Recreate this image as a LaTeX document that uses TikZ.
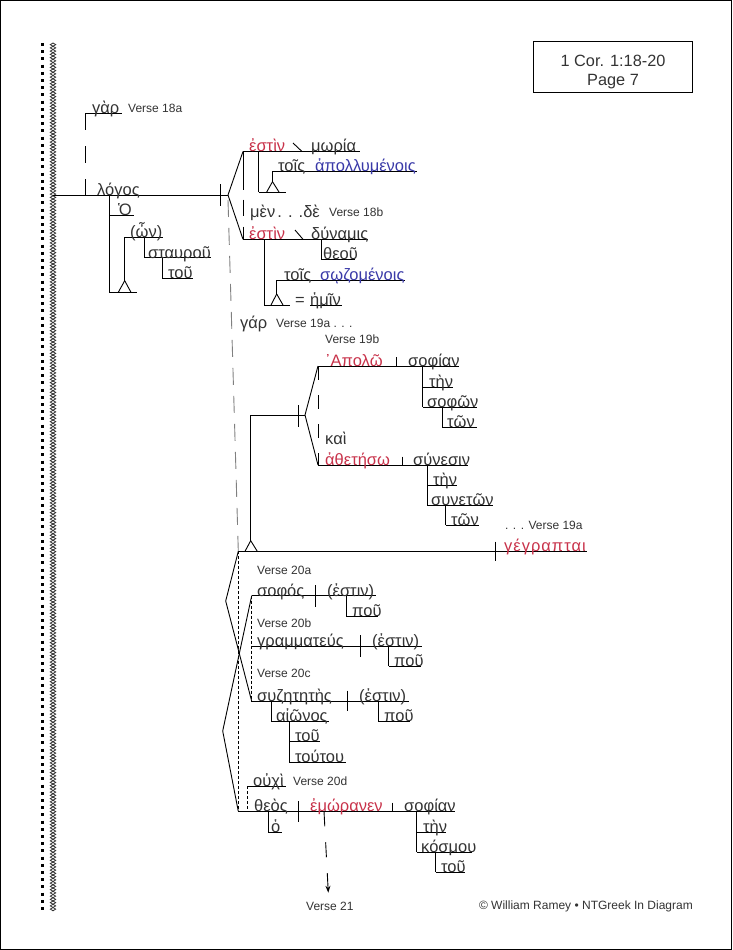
\documentclass[tikz,border=0pt]{standalone}
\usepackage{fontspec}
\setmainfont{Liberation Sans}
\newfontfamily\greekfont{Liberation Sans}
\usetikzlibrary{decorations.pathmorphing}
\usetikzlibrary{arrows.meta}
\definecolor{inkred}{HTML}{C8324A}
\definecolor{inkblue}{HTML}{3A3AA8}
\definecolor{inkgrey}{HTML}{333333}

\begin{document}
\begin{tikzpicture}[
    x = 1pt, y = -1pt,
    word/.style = {anchor = base west, inner sep = 0pt, yshift = -1pt, text = inkgrey, font = \greekfont\fontsize{16.5}{16.5}\selectfont},
    verb/.style = {word, text = inkred},
    part/.style = {word, text = inkblue},
    verse/.style = {anchor = west, inner sep = 0pt, text = inkgrey, font = \fontsize{12}{12}\selectfont},
    diag/.style = {line width = 0.9pt, black},
    bigdash/.style = {diag, dash pattern = on 16.5pt off 16.5pt},
    greydash/.style = {line width = 0.9pt, black!50, dash pattern = on 17pt off 11pt},
    smalldash/.style = {line width = 0.9pt, black, dash pattern = on 3pt off 2pt},
    rope/.style = {line width = 0.8pt, inkgrey, decorate, decoration = {zigzag, segment length = 6.5pt, amplitude = 2.7pt}},
    ]
    \path[use as bounding box] (0,0) rectangle (732,950);
    \draw[black, line width = 1pt] (0.5,0.5) rectangle (731.5,949.5);

    \node[draw, line width = 1pt, minimum width = 159pt, minimum height = 50pt, inner sep = 0pt, align = center, text = inkgrey, font = \fontsize{16.3}{19}\selectfont] (title) at (613,67) {\rule{0pt}{21pt}1 Cor. 1:18-20\\Page 7};

    \coordinate (dota) at (42.5,43);
    \coordinate (dotb) at (42.5,912);
    \coordinate (ropea) at (53,43);
    \coordinate (ropeb) at (53,911);
    \draw[line width = 3pt, black, dash pattern = on 3pt off 4.2pt] (dota) -- (dotb);
    \draw[rope] (ropea) -- (ropeb);
    \draw[rope, decoration = {mirror}] (ropea) -- (ropeb);

    % subject
    \coordinate (m0) at (53,195);
    \coordinate (m1) at (228,195);
    \coordinate (t1a) at (220,184);
    \coordinate (t1b) at (220,206);
    \coordinate (gara) at (85.3,113.3);
    \coordinate (garb) at (121.7,113.3);
    \coordinate (garc) at (85.3,195);
    \coordinate (oa) at (109.3,195);
    \coordinate (ob) at (109.3,215);
    \coordinate (oc) at (134,215);
    \coordinate (od) at (109.3,292.3);
    \coordinate (oe) at (136.7,292.3);
    \coordinate (pl) at (118.3,292.3);
    \coordinate (pa) at (124.7,280.7);
    \coordinate (pr) at (131,292.3);
    \coordinate (pb) at (124.7,237.3);
    \coordinate (pc) at (163.3,237.3);
    \coordinate (sa) at (144.3,237.3);
    \coordinate (sb) at (144.3,257.7);
    \coordinate (sc) at (211,257.7);
    \coordinate (sd) at (162.3,257.7);
    \coordinate (se) at (162.3,278.3);
    \coordinate (sf) at (192.7,278.3);
    \path[diag] (m0) edge (m1) (t1a) edge (t1b) (gara) edge (garb) (oa) edge (od) (ob) edge (oc) (od) edge (oe);
    \path[diag] (pl) edge (pa) (pa) edge (pr) (pa) edge (pb) (pb) edge (pc) (sa) edge (sb) (sb) edge (sc) (sd) edge (se) (se) edge (sf);
    \draw[bigdash] (gara) -- (garc);

    \node[word] (gar1) at (92,112) {γὰρ};
    \node[verse] (v18a) at (128,108) {Verse 18a};
    \node[word] (logos) at (97,194) {λόγος};
    \node[word] (ho1) at (118,214) {Ὁ};
    \node[word] (on1) at (130,236) {(ὦν)};
    \node[word] (stau) at (148,257) {σταυροῦ};
    \node[word] (tou1) at (168,277) {τοῦ};

    % 18
    \coordinate (ua) at (243,151.5);
    \coordinate (ub) at (360,151.5);
    \coordinate (ue) at (243,239.3);
    \coordinate (uf) at (368,239.3);
    \coordinate (sl1a) at (293,143);
    \coordinate (sl1b) at (302,151.5);
    \coordinate (sl2a) at (295,230);
    \coordinate (sl2b) at (303,239.3);
    \coordinate (va) at (258.7,151.5);
    \coordinate (vb) at (258.7,192);
    \coordinate (vc) at (286,192);
    \coordinate (vl) at (266.7,192);
    \coordinate (vt) at (272.5,181.7);
    \coordinate (vr) at (279,192);
    \coordinate (vu) at (272.5,171.3);
    \coordinate (vw) at (417,171.3);
    \coordinate (xa) at (321,239.3);
    \coordinate (xb) at (321,259);
    \coordinate (xc) at (355,259);
    \coordinate (ya) at (264.3,239.3);
    \coordinate (yb) at (264.3,305);
    \coordinate (yc) at (290,305);
    \coordinate (yl) at (271,305);
    \coordinate (yt) at (276.7,294);
    \coordinate (yr) at (283,305);
    \coordinate (yu) at (276.7,280.3);
    \coordinate (yw) at (405,280.3);
    \coordinate (ha) at (310,305);
    \coordinate (hb) at (342,305);
    \path[diag] (m1) edge (ua) (m1) edge (ue) (ua) edge (ub) (ue) edge (uf) (sl1a) edge (sl1b) (sl2a) edge (sl2b);
    \path[diag] (va) edge (vb) (vb) edge (vc) (vl) edge (vt) (vt) edge (vr) (vt) edge (vu) (vu) edge (vw);
    \path[diag] (xa) edge (xb) (xb) edge (xc) (ya) edge (yb) (yb) edge (yc) (yl) edge (yt) (yt) edge (yr) (yt) edge (yu) (yu) edge (yw) (ha) edge (hb);
    \draw[diag, dash pattern = on 38pt off 10pt on 16pt off 11pt on 13pt off 0pt] (ua) -- (ue);

    \node[verb] (est1) at (249,150) {ἐστὶν};
    \node[word] (moria) at (311,150) {μωρία};
    \node[word] (tois1) at (278,170) {τοῖς};
    \node[part] (apol) at (315,170) {ἀπολλυμένοις};
    \node[word] (men) at (250,216) {μὲν\hspace{2pt}. . .δὲ};
    \node[verse] (v18b) at (329,212) {Verse 18b};
    \node[verb] (est2) at (249,238) {ἐστὶν};
    \node[word] (dyn) at (311,238) {δύναμις};
    \node[word] (theou) at (323,258) {θεοῦ};
    \node[word] (tois2) at (284,279) {τοῖς};
    \node[part] (soz) at (320,279) {σῳζομένοις};
    \node[word] (eq) at (295,304) {=};
    \node[word] (hemin) at (310,304) {ἡμῖν};
    \node[word] (gar2) at (240,327) {γάρ};
    \node[verse] (v19a) at (276,323) {Verse 19a . . .};
    \node[verse] (v19b) at (325,339) {Verse 19b};

    % 19
    \coordinate (g0) at (228,200);
    \coordinate (g1) at (238.3,551.3);
    \coordinate (ca) at (250.7,540.7);
    \coordinate (cb) at (250.7,415);
    \coordinate (cc) at (305,415);
    \coordinate (cl) at (245,551.3);
    \coordinate (cr) at (257.3,551.3);
    \coordinate (t2a) at (298.3,405);
    \coordinate (t2b) at (298.3,426.7);
    \coordinate (da) at (318,366);
    \coordinate (db) at (459,366);
    \coordinate (dc) at (318,465);
    \coordinate (dd) at (467.7,465);
    \coordinate (t3a) at (396,357);
    \coordinate (t3b) at (396,366);
    \coordinate (t4a) at (402.3,456.7);
    \coordinate (t4b) at (402.3,465);
    \coordinate (ea) at (422.7,366);
    \coordinate (eb) at (422.7,387.3);
    \coordinate (ec) at (452.7,387.3);
    \coordinate (ed) at (422.7,407.3);
    \coordinate (ee) at (476.7,407.3);
    \coordinate (ef) at (442.3,407.3);
    \coordinate (eg) at (442.3,427.3);
    \coordinate (eh) at (476.7,427.3);
    \coordinate (fa) at (427.3,465);
    \coordinate (fb) at (427.3,485.3);
    \coordinate (fc) at (456.7,485.3);
    \coordinate (fd) at (427.3,505);
    \coordinate (fe) at (492.7,505);
    \coordinate (ff) at (445.7,505);
    \coordinate (fg) at (445.7,525);
    \coordinate (fh) at (479.3,525);
    \coordinate (me) at (586.7,551.3);
    \coordinate (t5a) at (495.7,541.7);
    \coordinate (t5b) at (495.7,560.7);
    \path[diag] (ca) edge (cb) (cb) edge (cc) (cl) edge (ca) (ca) edge (cr) (t2a) edge (t2b) (cc) edge (da) (cc) edge (dc) (da) edge (db) (dc) edge (dd) (t3a) edge (t3b) (t4a) edge (t4b);
    \path[diag] (ea) edge (ed) (eb) edge (ec) (ed) edge (ee) (ef) edge (eg) (eg) edge (eh);
    \path[diag] (fa) edge (fd) (fb) edge (fc) (fd) edge (fe) (ff) edge (fg) (fg) edge (fh);
    \path[diag] (g1) edge (me) (t5a) edge (t5b);
    \draw[greydash] (g0) -- (g1);
    \draw[diag, dash pattern = on 14pt off 15pt] (da) -- (dc);

    \node[verb] (apolo) at (325,365) {᾿Απολῶ};
    \node[word] (sophian1) at (408,365) {σοφίαν};
    \node[word] (ten1) at (429,386) {τὴν};
    \node[word] (sophon) at (427,406) {σοφῶν};
    \node[word] (ton1) at (447,426) {τῶν};
    \node[word] (kai) at (325,443) {καὶ};
    \node[verb] (athet) at (325,464) {ἀθετήσω};
    \node[word] (synesin) at (413,464) {σύνεσιν};
    \node[word] (ten2) at (433,484) {τὴν};
    \node[word] (syneton) at (431,504) {συνετῶν};
    \node[word] (ton2) at (451,524) {τῶν};
    \node[verse] (v19c) at (505,525) {. . . Verse 19a};
    \node[verb] (gegr) at (504,550) {\addfontfeature{LetterSpace=6}γέγραπται};

    % 20
    \coordinate (ka) at (225.7,601);
    \coordinate (kb) at (251.7,701.3);
    \coordinate (kc) at (251.7,595.7);
    \coordinate (kd) at (222.7,731);
    \coordinate (ke) at (238.3,811.3);
    \coordinate (la) at (375.7,595.7);
    \coordinate (t6a) at (315.7,585);
    \coordinate (t6b) at (315.7,606.7);
    \coordinate (lb) at (346.3,595.7);
    \coordinate (lc) at (346.3,616.3);
    \coordinate (ld) at (377.7,616.3);
    \coordinate (na) at (251.7,646.3);
    \coordinate (nb) at (421.7,646.3);
    \coordinate (t7a) at (360.7,635);
    \coordinate (t7b) at (360.7,657);
    \coordinate (nc) at (388.7,646.3);
    \coordinate (nd) at (388.7,666.3);
    \coordinate (ne) at (420.7,666.3);
    \coordinate (pp) at (409.3,701.3);
    \coordinate (t8a) at (347.3,690.7);
    \coordinate (t8b) at (347.3,710.7);
    \coordinate (qa) at (378.3,701.3);
    \coordinate (qb) at (378.3,721.3);
    \coordinate (qc) at (410,721.3);
    \coordinate (ra) at (271.3,701.3);
    \coordinate (rb) at (271.3,721.3);
    \coordinate (rc) at (329.3,721.3);
    \coordinate (rd) at (289.3,721.3);
    \coordinate (re) at (289.3,762);
    \coordinate (rf) at (346,762);
    \coordinate (rg) at (289.3,741.3);
    \coordinate (rh) at (320,741.3);
    \path[diag] (g1) edge (ka) (ka) edge (kb) (kc) edge (kd) (kd) edge (ke) (kc) edge (la) (t6a) edge (t6b) (lb) edge (lc) (lc) edge (ld);
    \path[diag] (na) edge (nb) (t7a) edge (t7b) (nc) edge (nd) (nd) edge (ne) (kb) edge (pp) (t8a) edge (t8b) (qa) edge (qb) (qb) edge (qc);
    \path[diag] (ra) edge (rb) (rb) edge (rc) (rd) edge (re) (re) edge (rf) (rg) edge (rh);
    \draw[smalldash] (kc) -- (kb);
    \draw[smalldash] (g1) -- (ke);

    \node[verse] (v20a) at (257,570) {Verse 20a};
    \node[word] (sophos) at (257,595) {σοφός};
    \node[word] (est3) at (327,595) {(ἐστιν)};
    \node[word] (pou1) at (352,615) {ποῦ};
    \node[verse] (v20b) at (257,623) {Verse 20b};
    \node[word] (gramm) at (257,645) {γραμματεύς};
    \node[word] (est4) at (372,645) {(ἐστιν)};
    \node[word] (pou2) at (394,665) {ποῦ};
    \node[verse] (v20c) at (257,673) {Verse 20c};
    \node[word] (syz) at (257,700) {συζητητὴς};
    \node[word] (est5) at (359,700) {(ἐστιν)};
    \node[word] (pou3) at (384,720) {ποῦ};
    \node[word] (aion) at (276,720) {αἰῶνος};
    \node[word] (tou2) at (295,740) {τοῦ};
    \node[word] (toutou) at (295,761) {τούτου};

    % 20d
    \coordinate (wa) at (247.3,811.3);
    \coordinate (wb) at (247.3,786);
    \coordinate (wc) at (285.7,786);
    \coordinate (ze) at (455,811.3);
    \coordinate (za) at (268.3,811.3);
    \coordinate (zb) at (268.3,832);
    \coordinate (zc) at (281.7,832);
    \coordinate (t9a) at (298.3,801);
    \coordinate (t9b) at (298.3,822.3);
    \coordinate (t10a) at (392.3,802.7);
    \coordinate (t10b) at (392.3,811.3);
    \coordinate (aa) at (416.7,811.3);
    \coordinate (ab) at (416.7,852.3);
    \coordinate (ac) at (416.7,832.3);
    \coordinate (ad) at (445.7,832.3);
    \coordinate (ae) at (471.7,852.3);
    \coordinate (af) at (435.7,852.3);
    \coordinate (ag) at (435.7,872.3);
    \coordinate (ah) at (465,872.3);
    \coordinate (ar0) at (324,811.3);
    \coordinate (ar1) at (328.3,892.7);
    \path[diag] (ke) edge (ze) (wb) edge (wc) (za) edge (zb) (zb) edge (zc) (t9a) edge (t9b) (t10a) edge (t10b);
    \path[diag] (aa) edge (ab) (ac) edge (ad) (ab) edge (ae) (af) edge (ag) (ag) edge (ah);
    \draw[smalldash] (wb) -- (wa);
    \draw[diag, dash pattern = on 15pt off 16pt, -{Stealth[length = 7pt, width = 5pt]}] (ar0) -- (ar1);

    \node[word] (ouxi) at (253,785) {οὐχὶ};
    \node[verse] (v20d) at (293,781.7) {Verse 20d};
    \node[word] (theos) at (254,810) {θεὸς};
    \node[word] (ho2) at (271,831) {ὁ};
    \node[verb] (emor) at (310,810) {ἐμώρανεν};
    \node[word] (sophian2) at (404,810) {σοφίαν};
    \node[word] (ten3) at (423,831) {τὴν};
    \node[word] (kosmou) at (421,851) {κόσμου};
    \node[word] (tou3) at (441,871) {τοῦ};
    \node[verse] (v21) at (306,906.7) {Verse 21};
    \node[verse, anchor = east] (copy) at (693,906.7) {© William Ramey • NTGreek In Diagram};
\end{tikzpicture}
\end{document}
